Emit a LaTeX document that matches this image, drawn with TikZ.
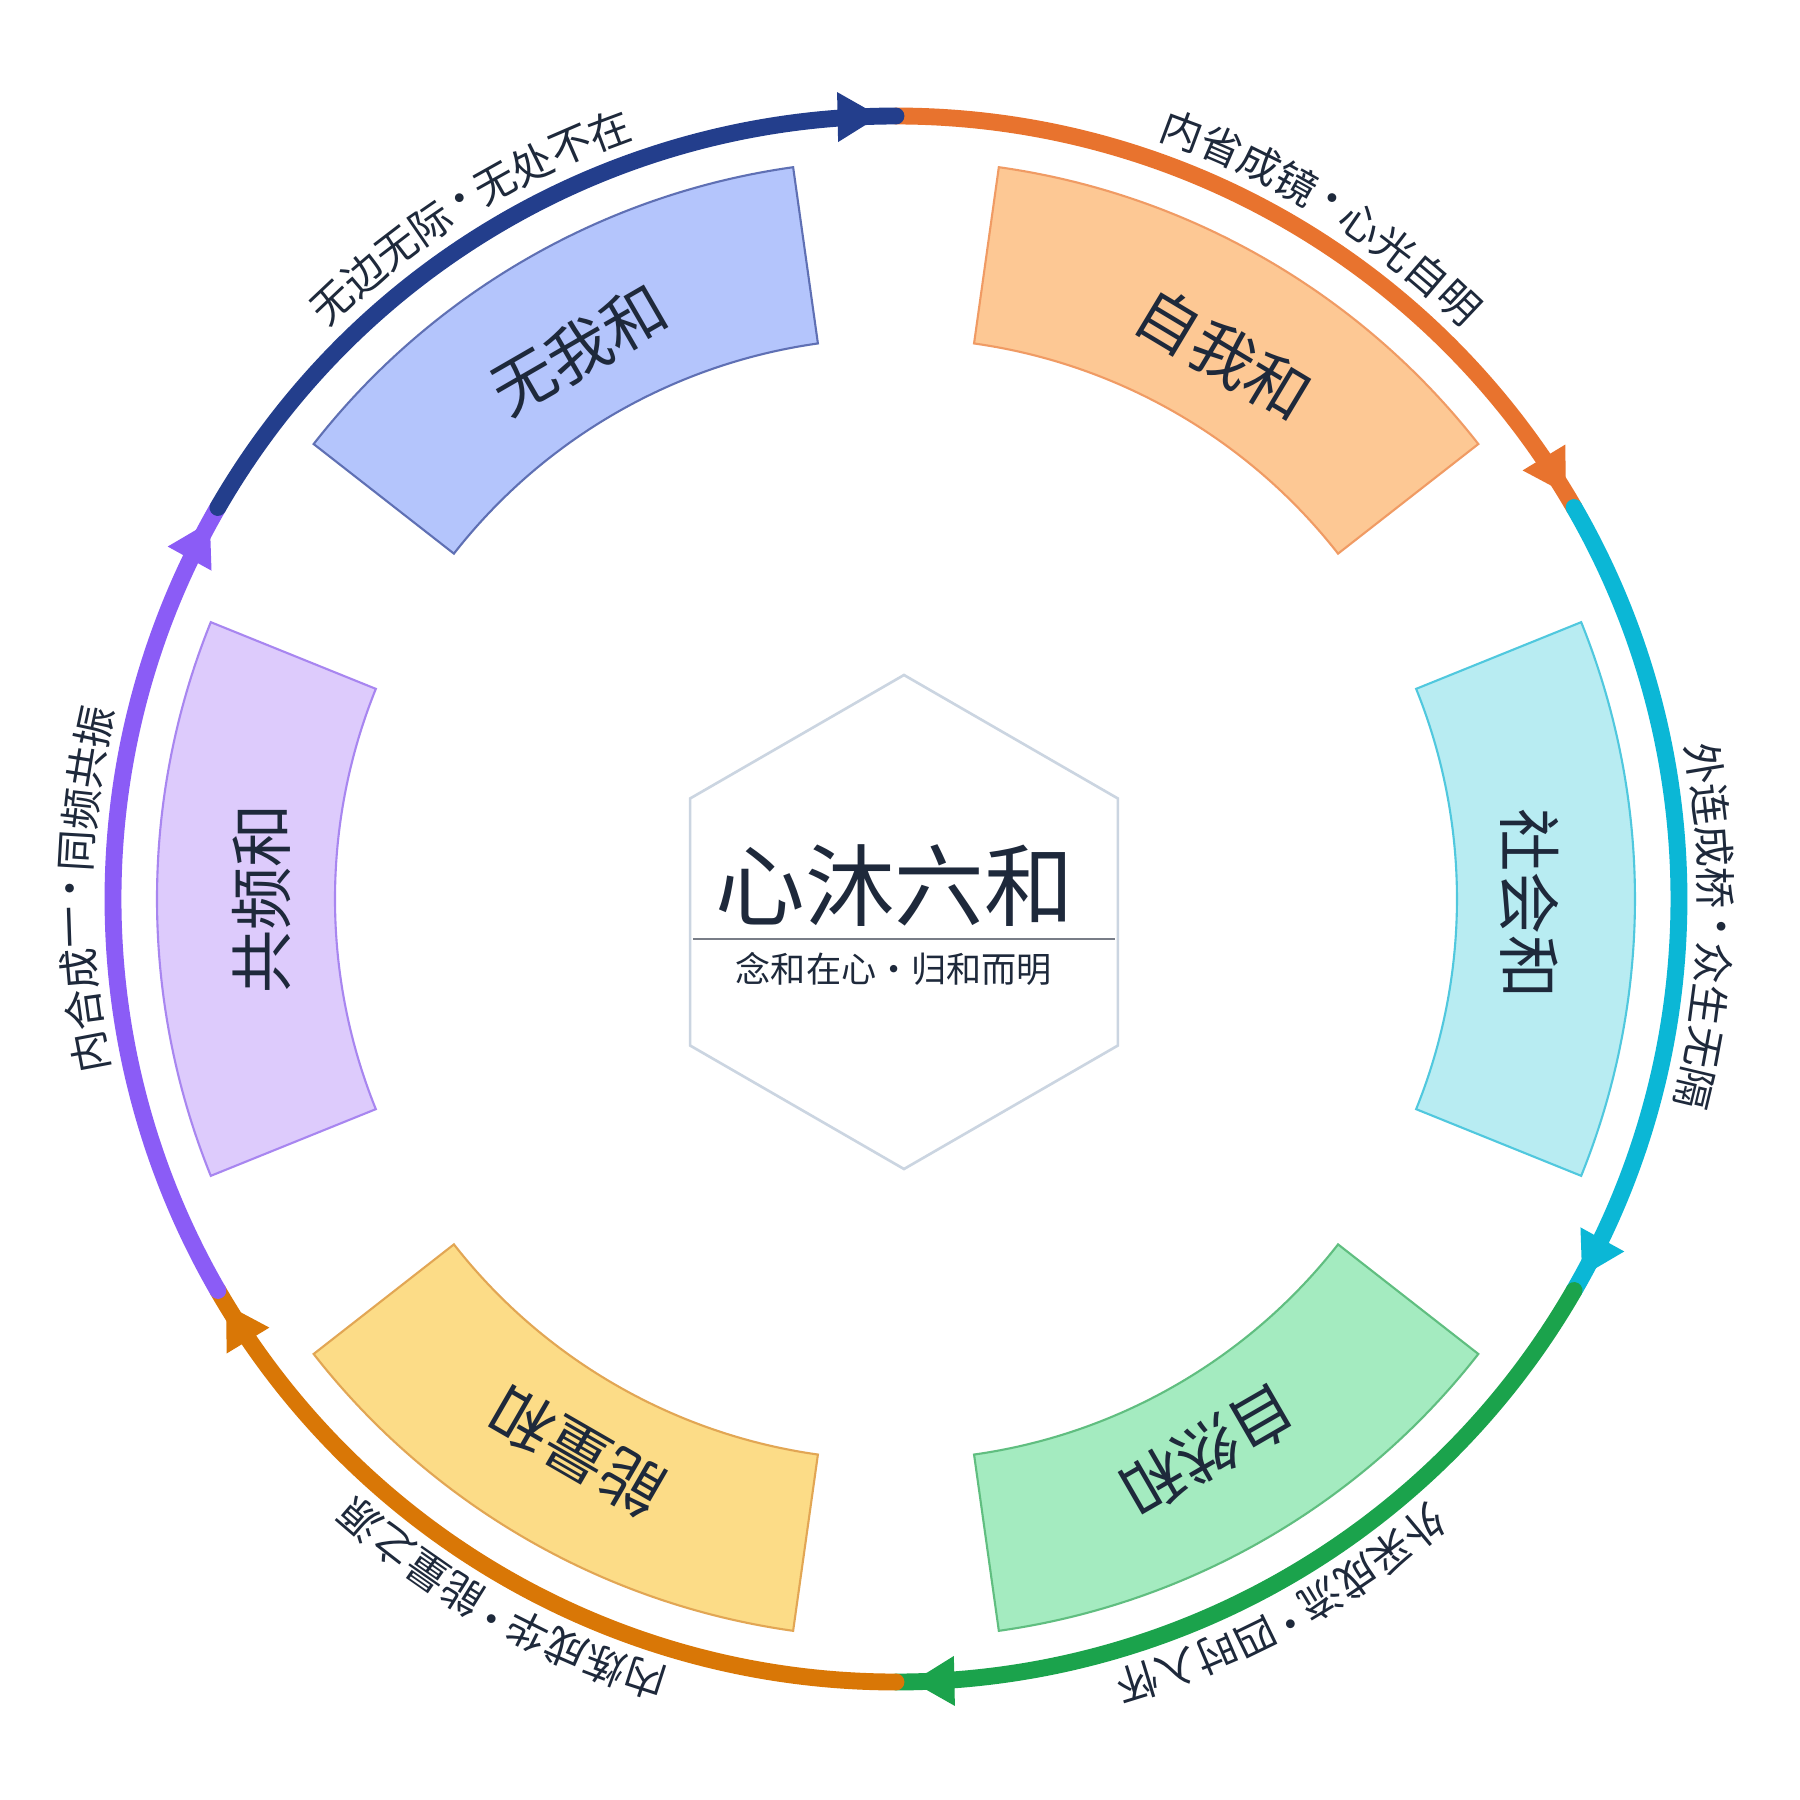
\documentclass[tikz,border=0pt]{standalone}
\usepackage{fontspec}
\setmainfont{Noto Sans CJK SC}
\definecolor{xinInk}{RGB}{30,41,59}
\definecolor{xinOrange}{RGB}{232,115,46}
\definecolor{xinCyan}{RGB}{11,183,214}
\definecolor{xinGreen}{RGB}{27,163,76}
\definecolor{xinAmber}{RGB}{217,119,6}
\definecolor{xinPurple}{RGB}{139,92,246}
\definecolor{xinNavy}{RGB}{35,62,140}
\definecolor{xinHex}{RGB}{203,213,225}
\definecolor{xinRule}{RGB}{120,125,135}
\definecolor{ziwoFill}{RGB}{253,200,148}
\definecolor{ziwoLine}{RGB}{240,155,100}
\definecolor{shehuiFill}{RGB}{184,236,242}
\definecolor{shehuiLine}{RGB}{80,200,222}
\definecolor{ziranFill}{RGB}{164,235,192}
\definecolor{ziranLine}{RGB}{96,190,128}
\definecolor{nengFill}{RGB}{252,220,135}
\definecolor{nengLine}{RGB}{226,166,84}
\definecolor{gongFill}{RGB}{221,203,252}
\definecolor{gongLine}{RGB}{168,134,240}
\definecolor{wuwoFill}{RGB}{180,197,252}
\definecolor{wuwoLine}{RGB}{95,112,180}
\usetikzlibrary{arrows.meta,decorations.markings}

% one motto along the ring: #1 name, #2 middle angle, #3 first half, #4 second half
\newcommand{\ringlabel}[4]{%
  \foreach \c [count=\k] in {#3}
    \node[arclab, rotate={#2+(4.9-\k)*2.935-90}] (#1-a\k) at ({#2+(4.9-\k)*2.935}:8.2) {\c};
  \node[arclab, rotate={#2-90}] (#1-dot) at (#2:8.2) {•};
  \foreach \c [count=\k] in {#4}
    \node[arclab, rotate={#2-(\k-0.1)*2.935-90}] (#1-b\k) at ({#2-(\k-0.1)*2.935}:8.2) {\c};
}

\begin{document}
\begin{tikzpicture}[
  ring/.style={line width=4.8pt, line cap=round, postaction={decorate},
    decoration={markings, mark=at position 0.98 with
      {\arrow{Triangle[length=4.2mm, width=5mm, line width=0pt]}}}},
  petal/.style={line width=0.6pt},
  petaltext/.style={font=\fontsize{18}{21}\selectfont, text=xinInk},
  arclab/.style={font=\fontsize{11.8}{14}\selectfont, text=xinInk, inner sep=0pt},
  hexline/.style={draw=xinHex, line width=0.75pt}
]
  \fill[white] (-8.96,-9.01) rectangle (9.04,8.99);

  % six petals
  \draw[petal, fill=ziwoFill, draw=ziwoLine] (38:7.39) arc[start angle=38, end angle=82, radius=7.39]
    -- (82:5.61) arc[start angle=82, end angle=38, radius=5.61] -- cycle;
  \draw[petal, fill=shehuiFill, draw=shehuiLine] (-22:7.39) arc[start angle=-22, end angle=22, radius=7.39]
    -- (22:5.61) arc[start angle=22, end angle=-22, radius=5.61] -- cycle;
  \draw[petal, fill=ziranFill, draw=ziranLine] (-82:7.39) arc[start angle=-82, end angle=-38, radius=7.39]
    -- (-38:5.61) arc[start angle=-38, end angle=-82, radius=5.61] -- cycle;
  \draw[petal, fill=nengFill, draw=nengLine] (-142:7.39) arc[start angle=-142, end angle=-98, radius=7.39]
    -- (-98:5.61) arc[start angle=-98, end angle=-142, radius=5.61] -- cycle;
  \draw[petal, fill=gongFill, draw=gongLine] (158:7.39) arc[start angle=158, end angle=202, radius=7.39]
    -- (202:5.61) arc[start angle=202, end angle=158, radius=5.61] -- cycle;
  \draw[petal, fill=wuwoFill, draw=wuwoLine] (98:7.39) arc[start angle=98, end angle=142, radius=7.39]
    -- (142:5.61) arc[start angle=142, end angle=98, radius=5.61] -- cycle;

  \node[petaltext, rotate=-31]  (ziwo)      at (59:6.36)   {自我和};
  \node[petaltext, rotate=-90]  (shehui)    at (-0.4:6.34) {社会和};
  \node[petaltext, rotate=-150] (ziran)     at (-60.5:6.34) {自然和};
  \node[petaltext, rotate=150]  (nengliang) at (-120:6.38) {能量和};
  \node[petaltext, rotate=90]   (gongpin)   at (180:6.34)  {共频和};
  \node[petaltext, rotate=30]   (wuwo)      at (120:6.34)  {无我和};

  % the ring, clockwise
  \draw[ring, xinOrange] (90:7.83) arc[start angle=90, end angle=30, radius=7.83];
  \draw[ring, xinCyan] (30:7.83) arc[start angle=30, end angle=-30, radius=7.83];
  \draw[ring, xinGreen] (-30:7.83) arc[start angle=-30, end angle=-90, radius=7.83];
  \draw[ring, xinAmber] (-90:7.83) arc[start angle=-90, end angle=-150, radius=7.83];
  \draw[ring, xinPurple] (-150:7.83) arc[start angle=-150, end angle=-210, radius=7.83];
  \draw[ring, xinNavy] (150:7.83) arc[start angle=150, end angle=90, radius=7.83];

  \ringlabel{neixing}{58.1}{内,省,成,镜}{心,光,自,明}
  \ringlabel{wailian}{-1.9}{外,连,成,桥}{众,生,无,隔}
  \ringlabel{waicai}{-61.4}{外,采,成,流}{四,时,入,怀}
  \ringlabel{neilian}{-119.3}{内,炼,成,华}{能,量,之,源}
  \ringlabel{neihe}{179.3}{内,合,成,一}{同,频,共,振}
  \ringlabel{wubian}{121.9}{无,边,无,际}{无,处,不,在}

  % centre
  \draw[hexline, shift={(0.08,-0.23)}] (90:2.47) -- (150:2.47) -- (210:2.47) -- (270:2.47)
    -- (330:2.47) -- (30:2.47) -- cycle;
  \node[font=\fontsize{25.5}{30}\selectfont, text=xinInk] (title) at (-0.01,0.13) {心沐六和};
  \draw[xinRule, line width=0.5pt] (-2.03,-0.40) -- (2.19,-0.40);
  \node[font=\fontsize{10}{12}\selectfont, text=xinInk] (motto) at (-0.02,-0.70) {念和在心•归和而明};
\end{tikzpicture}
\end{document}
